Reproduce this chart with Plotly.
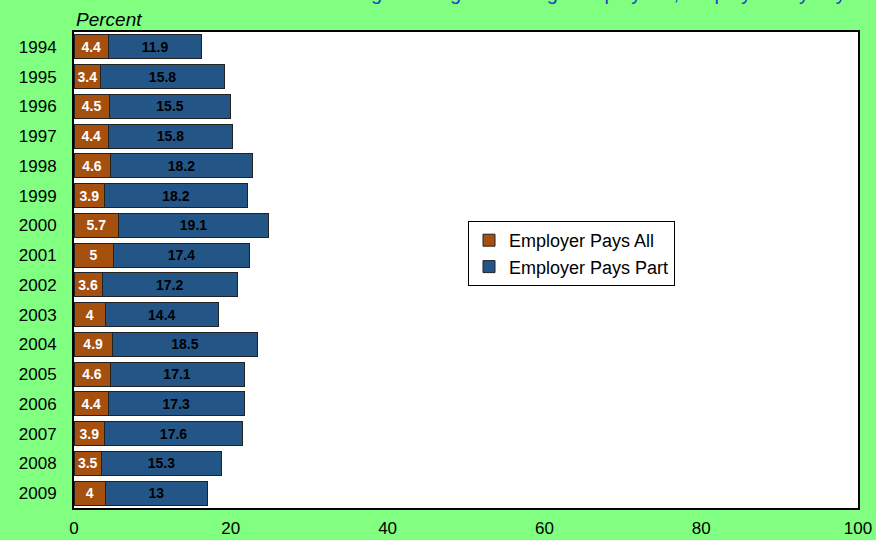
import plotly.graph_objects as go

years = ["1994", "1995", "1996", "1997", "1998", "1999", "2000", "2001",
         "2002", "2003", "2004", "2005", "2006", "2007", "2008", "2009"]
pays_all = [4.4, 3.4, 4.5, 4.4, 4.6, 3.9, 5.7, 5, 3.6, 4, 4.9, 4.6, 4.4, 3.9, 3.5, 4]
pays_part = [11.9, 15.8, 15.5, 15.8, 18.2, 18.2, 19.1, 17.4, 17.2, 14.4, 18.5, 17.1, 17.3, 17.6, 15.3, 13]
x_ticks = [0, 20, 40, 60, 80, 100]

font_family = "Liberation Sans, Arial, sans-serif"
bg = "#80FF80"

fig = go.Figure()
fig.add_trace(go.Bar(
    y=years, x=pays_all, orientation="h", name="Employer Pays All",
    marker=dict(color="#A5500F", line=dict(color="#222222", width=1)),
    text=[f"{v:g}" for v in pays_all], textposition="inside",
    insidetextanchor="middle", constraintext="none",
    textfont=dict(color="white", size=14, family=font_family, weight="bold"),
))
fig.add_trace(go.Bar(
    y=years, x=pays_part, orientation="h", name="Employer Pays Part",
    marker=dict(color="#245587", line=dict(color="#222222", width=1)),
    text=[f"{v:g}" for v in pays_part], textposition="inside",
    insidetextanchor="middle", constraintext="none",
    textfont=dict(color="black", size=14, family=font_family, weight="bold"),
))

fig.update_layout(
    barmode="stack",
    bargap=0.2,
    width=876, height=540,
    margin=dict(l=74, r=18, t=32, b=32, autoexpand=False),
    paper_bgcolor=bg,
    plot_bgcolor="white",
    font=dict(family=font_family, size=17, color="black"),
    showlegend=True,
    legend=dict(
        x=(468 - 74) / 784, y=(508 - 221) / 476, xanchor="left", yanchor="top",
        bgcolor="white", bordercolor="black", borderwidth=1,
        font=dict(size=18, color="black"),
        traceorder="normal", itemwidth=30, tracegroupgap=0,
    ),
    xaxis=dict(
        range=[0, 100], tickvals=x_ticks, ticktext=[str(t) for t in x_ticks],
        showgrid=False, zeroline=False, automargin=False,
        ticks="outside", ticklen=4, tickcolor="rgba(0,0,0,0)",
        tickfont=dict(size=17),
        showline=True, linecolor="black", linewidth=2, mirror=True,
    ),
    yaxis=dict(
        categoryorder="array", categoryarray=years, autorange="reversed",
        showgrid=False, automargin=False,
        ticks="outside", ticklen=12, tickcolor="rgba(0,0,0,0)",
        tickfont=dict(size=17),
        showline=True, linecolor="black", linewidth=2, mirror=True,
    ),
    annotations=[
        dict(text="Percent", xref="paper", yref="paper", x=0.0, y=1.0,
             xanchor="left", yanchor="bottom", yshift=0, showarrow=False,
             font=dict(size=19, style="italic", color="black")),
        dict(text="Percentage of Single Coverage Employees, Employer Pays by Year",
             xref="paper", yref="paper", x=0.66, y=1.044,
             xanchor="center", yanchor="bottom", yshift=5, showarrow=False,
             font=dict(size=20, color="#1A3FCC")),
    ],
)

fig.write_html(
    "out.html",
    config={"displayModeBar": False},
    post_script=f"document.body.style.margin='0';document.body.style.background='{bg}';",
)
